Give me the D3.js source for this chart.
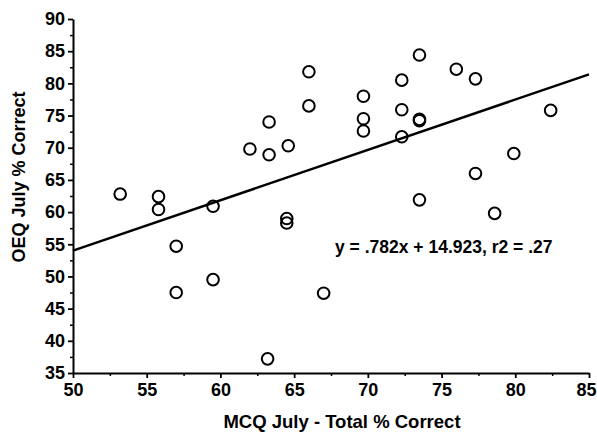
<!DOCTYPE html>
<html>
<head>
<meta charset="utf-8">
<script src="https://cdn.jsdelivr.net/npm/d3@7"></script>
<style>
  body { margin: 0; background: #fff; }
  text { font-family: "Liberation Sans", Arial, sans-serif; font-weight: bold; }
</style>
</head>
<body>
<div id="chart"></div>
<script>
// MCQ July total % correct (x) vs OEQ July % correct (y)
const mcqValues = [53.2, 55.8, 55.8, 57.0, 57.0, 59.5, 59.5, 62.0, 63.3, 63.3, 64.6,
    64.5, 64.5, 63.2, 66.0, 66.0, 67.0, 69.7, 69.7, 69.7, 72.3, 72.3, 72.3,
    73.5, 73.5, 73.5, 73.5, 76.0, 77.3, 77.3, 78.6, 79.9, 82.4];
const oeqValues = [62.8, 62.4, 60.4, 54.7, 47.5, 60.9, 49.5, 69.8, 74.0, 68.9, 70.3,
    59.0, 58.3, 37.2, 81.8, 76.5, 47.4, 78.0, 74.5, 72.6, 80.5, 75.9, 71.7,
    84.4, 74.4, 74.2, 61.9, 82.2, 80.7, 66.0, 59.8, 69.1, 75.8];
const xTicks = [50, 55, 60, 65, 70, 75, 80, 85];
const yTicks = [35, 40, 45, 50, 55, 60, 65, 70, 75, 80, 85, 90];
const fitSlope = 0.782;
const fitIntercept = 14.923;
const fitLabel = 'y = .782x + 14.923, r2 = .27';

const width = 597, height = 433;
const margin = {top: 19, right: 8, bottom: 60, left: 73};
const innerW = 589 - margin.left;
const innerH = 373 - margin.top;

const svg = d3.select('#chart')
    .append('svg')
    .attr('width', width)
    .attr('height', height);

const chart = svg.append('g')
    .attr('transform', `translate(${margin.left}, ${margin.top})`);

const x = d3.scaleLinear().domain([50, 85]).range([0, innerW]);
const y = d3.scaleLinear().domain([35, 90]).range([innerH, 0]);

// minor ticks every 2.5
const minorX = d3.range(52.5, 85, 5);
const minorY = d3.range(37.5, 90, 5);

chart.append('g')
    .attr('transform', `translate(0, ${innerH})`)
    .call(d3.axisBottom(x).tickValues(minorX).tickSize(3).tickFormat(''))
    .call(g => g.select('.domain').remove())
    .selectAll('line').attr('stroke-width', 1.5);

chart.append('g')
    .call(d3.axisLeft(y).tickValues(minorY).tickSize(3).tickFormat(''))
    .call(g => g.select('.domain').remove())
    .selectAll('line').attr('stroke-width', 1.5);

// main axes
const xAxis = chart.append('g')
    .attr('transform', `translate(0, ${innerH})`)
    .call(d3.axisBottom(x).tickValues(xTicks).tickSize(5).tickSizeOuter(0).tickPadding(5));

const yAxis = chart.append('g')
    .call(d3.axisLeft(y).tickValues(yTicks).tickSize(5).tickSizeOuter(0).tickPadding(3));

[xAxis, yAxis].forEach(g => {
    g.select('.domain').attr('stroke-width', 2);
    g.selectAll('.tick line').attr('stroke-width', 1.8);
    g.selectAll('.tick text')
        .style('font-size', '18px')
        .style('font-weight', 'bold')
        .attr('fill', '#000');
});

// last x label sits against the right edge
xAxis.selectAll('.tick text')
    .filter(d => d === 85)
    .attr('dx', -3);

// fitted line
chart.append('line')
    .attr('x1', x(50))
    .attr('y1', y(fitSlope * 50 + fitIntercept))
    .attr('x2', x(85))
    .attr('y2', y(fitSlope * 85 + fitIntercept))
    .attr('stroke', '#000')
    .attr('stroke-width', 2.5);

// points
chart.selectAll('.dot')
    .data(mcqValues.map((v, i) => [v, oeqValues[i]]))
    .enter()
    .append('circle')
    .attr('class', 'dot')
    .attr('cx', d => x(d[0]))
    .attr('cy', d => y(d[1]))
    .attr('r', 5.8)
    .attr('fill', 'none')
    .attr('stroke', '#000')
    .attr('stroke-width', 2);

// equation
svg.append('text')
    .attr('x', 335)
    .attr('y', 253)
    .style('font-size', '17.5px')
    .text(fitLabel);

// axis titles
svg.append('text')
    .attr('x', 342)
    .attr('y', 428)
    .attr('text-anchor', 'middle')
    .style('font-size', '18.5px')
    .text('MCQ July - Total % Correct');

svg.append('text')
    .attr('transform', 'translate(25, 177) rotate(-90)')
    .attr('text-anchor', 'middle')
    .style('font-size', '18px')
    .text('OEQ July % Correct');
</script>
</body>
</html>
